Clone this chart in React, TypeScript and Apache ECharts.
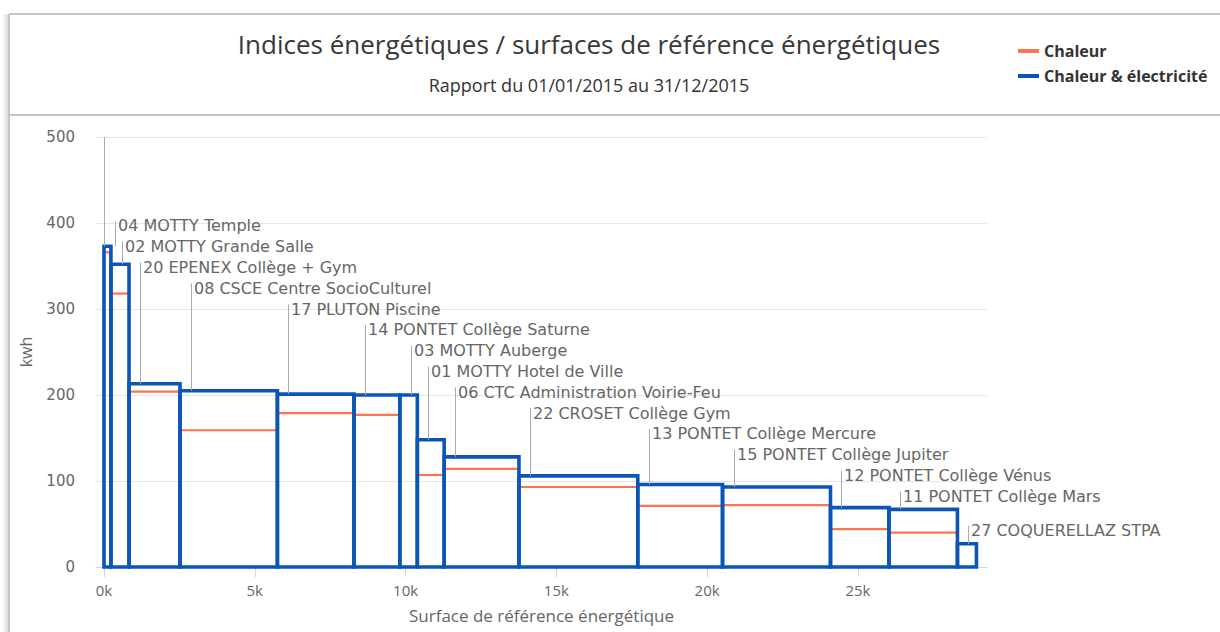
import React, { useEffect, useRef } from "react";
import * as echarts from "echarts";

// ---- data ----
const buildings = [
  "04 MOTTY Temple",
  "02 MOTTY Grande Salle",
  "20 EPENEX Collège + Gym",
  "08 CSCE Centre SocioCulturel",
  "17 PLUTON Piscine",
  "14 PONTET Collège Saturne",
  "03 MOTTY Auberge",
  "01 MOTTY Hotel de Ville",
  "06 CTC Administration Voirie-Feu",
  "22 CROSET Collège Gym",
  "13 PONTET Collège Mercure",
  "15 PONTET Collège Jupiter",
  "12 PONTET Collège Vénus",
  "11 PONTET Collège Mars",
  "27 COQUERELLAZ STPA",
];
// surface de référence énergétique (m²) per building
const surfaces = [230, 600, 1690, 3230, 2540, 1520, 580, 890, 2480, 3940, 2810, 3580, 1940, 2270, 630];
// Chaleur & électricité (kwh)
const chaleurElectricite = [373, 352, 213, 205, 201, 200, 200, 148, 128, 106, 96, 93, 69, 67, 27];
// Chaleur (kwh) – null where no line is visible
const chaleur: (number | null)[] = [366, 318, 204, 159, 179, 177, null, 107, 114, 93, 71, 72, 44, 40, null];

const xTickValues = [0, 5000, 10000, 15000, 20000, 25000];
const yTickMax = 500;
const yTickStep = 100;

const BLUE = "#0b55b7";
const RED = "#fb7550";

export default function App() {
  const ref = useRef<HTMLDivElement>(null);

  useEffect(() => {
    if (!ref.current) return;
    const chart = echarts.init(ref.current, null, { renderer: "svg" });

    const starts: number[] = [];
    let acc = 0;
    surfaces.forEach((s) => {
      starts.push(acc);
      acc += s;
    });
    const n = buildings.length;

    const rectData = surfaces.map((s, i) => [starts[i], starts[i] + s, chaleurElectricite[i]]);
    const redData: number[][] = [];
    surfaces.forEach((s, i) => {
      const c = chaleur[i];
      if (c !== null) redData.push([starts[i], starts[i] + s, c]);
    });
    const labelData = surfaces.map((s, i) => [starts[i], chaleurElectricite[i]]);

    const LABEL_STEP = 20.8;
    const LABEL_LIFT = 13;
    const CONNECTOR_OFFSET = 11;

    const option: any = {
      animation: false,
      backgroundColor: "#ffffff",
      title: {
        text: "Indices énergétiques / surfaces de référence énergétiques",
        subtext: "Rapport du 01/01/2015 au 31/12/2015",
        left: 584,
        top: 26,
        textAlign: "center",
        itemGap: 19,
        textStyle: {
          fontFamily: "Open Sans",
          fontSize: 26,
          fontWeight: "normal",
          color: "#383838",
        },
        subtextStyle: {
          fontFamily: "Open Sans",
          fontSize: 18,
          color: "#333333",
        },
      },
      legend: {
        data: ["Chaleur", "Chaleur & électricité"],
        orient: "vertical",
        left: 1013,
        top: 38,
        itemGap: 9,
        itemWidth: 21,
        itemHeight: 4,
        icon: "rect",
        textStyle: {
          fontFamily: "Open Sans",
          fontSize: 16,
          fontWeight: "bold",
          color: "#333333",
        },
      },
      grid: { left: 96, right: 233, top: 137, height: 430 },
      xAxis: {
        type: "value",
        min: -265,
        max: 29280,
        name: "Surface de référence énergétique",
        nameLocation: "middle",
        nameGap: 40,
        nameTextStyle: { fontFamily: "Open Sans", fontSize: 17, color: "#666666" },
        axisLine: { show: true, lineStyle: { color: "#ccd6eb", width: 1 } },
        axisTick: { show: true, length: 10, customValues: xTickValues, lineStyle: { color: "#ccd6eb" } },
        axisLabel: {
          customValues: xTickValues,
          margin: 15,
          fontFamily: "Open Sans",
          fontSize: 15,
          color: "#666666",
          formatter: (v: number) => `${v / 1000}k`,
        },
        splitLine: { show: false },
      },
      yAxis: {
        type: "value",
        min: 0,
        max: yTickMax,
        interval: yTickStep,
        name: "kwh",
        nameLocation: "middle",
        nameGap: 62,
        nameRotate: 90,
        nameTextStyle: { fontFamily: "Open Sans", fontSize: 16, color: "#666666" },
        axisLine: { show: false },
        axisTick: { show: false },
        axisLabel: { margin: 21, fontFamily: "DejaVu Sans", fontSize: 15, color: "#666666" },
        splitLine: { lineStyle: { color: "#e6e6e6", width: 1 } },
      },
      graphic: [
        {
          type: "rect",
          silent: true,
          shape: { x: 2, y: 14, width: 7, height: 618 },
          style: {
            fill: new echarts.graphic.LinearGradient(1, 0, 0, 0, [
              { offset: 0, color: "rgba(0,0,0,0.16)" },
              { offset: 1, color: "rgba(0,0,0,0)" },
            ]),
          },
        },
        { type: "line", silent: true, shape: { x1: 9, y1: 14, x2: 1220, y2: 14 }, style: { stroke: "#c6c6c6", lineWidth: 2 } },
        { type: "line", silent: true, shape: { x1: 9, y1: 14, x2: 9, y2: 632 }, style: { stroke: "#c6c6c6", lineWidth: 2 } },
        { type: "line", silent: true, shape: { x1: 9, y1: 115, x2: 1220, y2: 115 }, style: { stroke: "#c6c6c6", lineWidth: 2 } },
      ],
      series: [
        {
          name: "Chaleur",
          type: "custom",
          color: RED,
          z: 2,
          encode: { x: [0, 1], y: 2 },
          data: redData,
          renderItem: (params: any, api: any) => {
            const p0 = api.coord([api.value(0), api.value(2)]);
            const p1 = api.coord([api.value(1), api.value(2)]);
            return {
              type: "line",
              shape: { x1: p0[0], y1: p0[1], x2: p1[0], y2: p1[1] },
              style: { stroke: RED, lineWidth: 2.2 },
            };
          },
        },
        {
          name: "Chaleur & électricité",
          type: "custom",
          color: BLUE,
          z: 3,
          encode: { x: [0, 1], y: 2 },
          data: rectData,
          renderItem: (params: any, api: any) => {
            const p0 = api.coord([api.value(0), api.value(2)]);
            const p1 = api.coord([api.value(1), 0]);
            return {
              type: "rect",
              shape: { x: p0[0], y: p0[1], width: p1[0] - p0[0], height: p1[1] - p0[1] },
              style: { fill: "none", stroke: BLUE, lineWidth: 3.6 },
            };
          },
        },
        {
          name: "labels",
          type: "custom",
          z: 4,
          silent: true,
          encode: { x: 0, y: 1 },
          data: labelData,
          renderItem: (params: any, api: any) => {
            const i = params.dataIndex;
            const ys: number[] = [];
            let prev = Infinity;
            for (let j = n - 1; j >= i; j--) {
              const topJ = api.coord([starts[j], chaleurElectricite[j]])[1];
              const yj = Math.min(topJ - LABEL_LIFT, prev - LABEL_STEP);
              ys[j] = yj;
              prev = yj;
            }
            const y = ys[i];
            const top = api.coord([starts[i], chaleurElectricite[i]])[1];
            const x = Math.round(api.coord([starts[i], 0])[0] + CONNECTOR_OFFSET) + 0.5;
            const children: any[] = [
              {
                type: "line",
                shape: { x1: x, y1: y - 5, x2: x, y2: top },
                style: { stroke: "#aaaaaa", lineWidth: 1 },
              },
              {
                type: "text",
                style: {
                  text: buildings[i],
                  x: x + 2.5,
                  y: y,
                  fill: "#666666",
                  fontFamily: "DejaVu Sans",
                  fontSize: 16,
                  align: "left",
                  verticalAlign: "middle",
                },
              },
            ];
            if (i === 0) {
              const a = api.coord([starts[0], chaleurElectricite[0]]);
              const b = api.coord([starts[0], yTickMax]);
              const gx = Math.round(a[0]) + 0.5;
              children.push({
                type: "line",
                shape: { x1: gx, y1: b[1], x2: gx, y2: a[1] },
                style: { stroke: "#aaaaaa", lineWidth: 1 },
              });
            }
            return { type: "group", children };
          },
        },
      ],
    };

    chart.setOption(option);
    return () => {
      chart.dispose();
    };
  }, []);

  return (
    <div
      ref={ref}
      style={{ position: "fixed", left: 0, top: 0, width: 1220, height: 632, background: "#fff" }}
    />
  );
}
